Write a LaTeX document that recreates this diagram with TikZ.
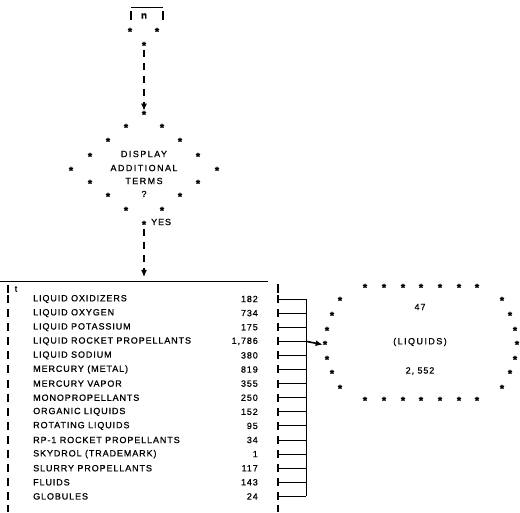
\documentclass[tikz,border=0pt]{standalone}
\usepackage{fontspec}
\setmainfont{Liberation Sans}[LetterSpace=10, FakeBold=0.8]
\usetikzlibrary{arrows.meta}

\begin{document}
\begin{tikzpicture}[x=1pt,y=-1pt,
  txt/.style={inner sep=0pt, font=\fontsize{9}{10}\selectfont},
  wide/.style={inner sep=0pt, font=\fontsize{9}{10}\selectfont\addfontfeature{LetterSpace=16}},
  ast/.style={inner sep=0pt, font=\fontsize{11}{12}\selectfont\bfseries, yshift=-2.6pt},
  bar/.style={line width=1.2pt},
  rule/.style={line width=1pt},
  flow/.style={line width=1.1pt, dash pattern=on 7pt off 6pt, -{Latex[length=7pt,width=6pt]}},
  link/.style={line width=0.9pt},
]
\useasboundingbox (0,0) rectangle (520,513);

% ---- terminal at the top ----
\draw[rule] (131,8) -- (163,8);
\draw[bar] (131,11) -- (131,20);
\draw[bar] (163,11) -- (163,20);
\node[txt, font=\fontsize{10}{11}\selectfont\bfseries] (term) at (144,16) {n};
\node[ast] (t1) at (130,29) {*};
\node[ast] (t2) at (157,29) {*};
\node[ast] (c1) at (144,43) {*};

% ---- decision diamond drawn with asterisks ----
\node[ast] (d0) at (144,112) {*};
\foreach \y/\dx [count=\i] in {125/18, 139/36, 154/54, 168/73, 181/54, 194/36, 208/18} {
  \node[ast] (dl\i) at (144-\dx,\y) {*};
  \node[ast] (dr\i) at (144+\dx,\y) {*};
}
\node[ast] (dY) at (144,222) {*};
\node[wide] (q1) at (144,154) {DISPLAY};
\node[wide] (q2) at (144,168) {ADDITIONAL};
\node[wide] (q3) at (144,181) {TERMS};
\node[txt] (qm) at (144,194) {?};
\node[txt, anchor=west] (yes) at (151,222) {YES};

\draw[flow] (c1) -- (d0);
\coordinate (boxtop) at (144,282);
\draw[flow, shorten >=5pt] (dY) -- (boxtop);

% ---- list of terms ----
\draw[rule] (0,282) -- (268,282);
\draw[bar] (278,284) -- (278,293);
\draw[bar] (8,285) -- (8,293);
\node[txt] (tt) at (16,289) {t};
\foreach \name/\num [count=\i] in {
  LIQUID OXIDIZERS/182,
  LIQUID OXYGEN/734,
  LIQUID POTASSIUM/175,
  LIQUID ROCKET PROPELLANTS/{1,786},
  LIQUID SODIUM/380,
  MERCURY (METAL)/819,
  MERCURY VAPOR/355,
  MONOPROPELLANTS/250,
  ORGANIC LIQUIDS/152,
  ROTATING LIQUIDS/95,
  RP-1 ROCKET PROPELLANTS/34,
  SKYDROL (TRADEMARK)/1,
  SLURRY PROPELLANTS/117,
  FLUIDS/143,
  GLOBULES/24} {
  \pgfmathsetmacro\ry{299+(\i-1)*14.1}
  \draw[bar] (8,\ry-4) -- (8,\ry+4);
  \node[txt, anchor=west] (n\i) at (33,\ry) {\name};
  \node[txt, anchor=east] (v\i) at (258,\ry) {\num};
  \draw[bar] (278,\ry-4) -- (278,\ry+4);
  \coordinate (j\i) at (306,\ry);
  \draw[link] (278,\ry) -- (j\i);
}
\draw[link] (j1) -- (j15);
\draw[bar] (8,505) -- (8,512);
\draw[bar] (278,505) -- (278,512);

% ---- summary box drawn with asterisks ----
\foreach \x [count=\i] in {365,384,403,421,440,459,477} {
  \node[ast] (st\i) at (\x,285) {*};
  \node[ast] (sb\i) at (\x,398) {*};
}
\foreach \y/\dx [count=\i] in {298/81, 313/89, 328/94, 342/96, 357/94, 371/89, 386/81} {
  \node[ast] (sl\i) at (421-\dx,\y) {*};
  \node[ast] (sr\i) at (421+\dx,\y) {*};
}
\node[txt] (s1) at (420,307) {47};
\node[wide] (s2) at (420,342) {(LIQUIDS)};
\node[txt] (s3) at (420,371) {2, 552};

\draw[line width=1.6pt, -{Latex[length=7pt,width=6pt]}] (j4) -- (sl4.west);
\end{tikzpicture}
\end{document}
